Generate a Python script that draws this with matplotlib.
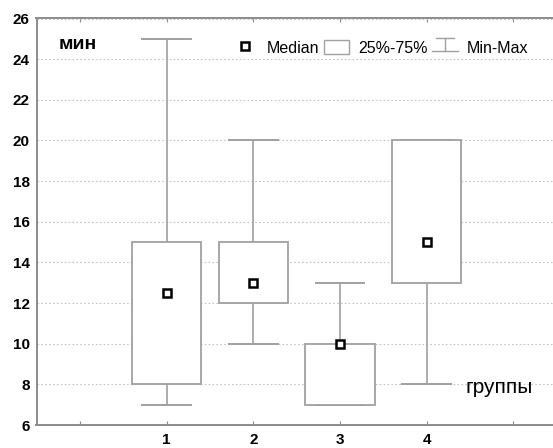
import matplotlib.pyplot as plt
from matplotlib.lines import Line2D
from matplotlib.patches import Rectangle
from matplotlib.legend_handler import HandlerBase

# ----------------------------
# Data
# ----------------------------
groups = [1, 2, 3, 4]
mins = [7, 10, 7, 8]
q1 = [8, 12, 7, 13]
medians = [12.5, 13, 10, 15]
q3 = [15, 15, 10, 20]
maxs = [25, 20, 13, 20]

yticks = [6, 8, 10, 12, 14, 16, 18, 20, 22, 24, 26]
xtick_pos = [0, 1, 2, 3, 4, 5]
xtick_labels = ["", "1", "2", "3", "4", ""]

LINE = "#a0a0a0"
BOX_W = 0.8
CAP_W = 0.56


class WhiskerHandler(HandlerBase):
    # legend symbol: short cap on top, stem, longer line at the bottom
    def create_artists(self, legend, orig_handle, xd, yd, w, h, fontsize, trans):
        cx = xd + w / 2
        top = yd + h * 1.0
        bot = yd
        arts = [
            Line2D([cx - w * 0.35, cx + w * 0.35], [top, top], color=LINE, lw=1.0),
            Line2D([cx, cx], [bot, top], color=LINE, lw=1.0),
            Line2D([xd, xd + w], [bot, bot], color=LINE, lw=1.0),
        ]
        for a in arts:
            a.set_transform(trans)
        return arts


plt.rcParams["font.family"] = ["Liberation Sans", "DejaVu Sans"]

fig = plt.figure(figsize=(5.53, 4.48), dpi=100)
ax = fig.add_axes([36.5 / 553, 23 / 448, 1 - 36.5 / 553 + 0.002, 406.5 / 448])

for g, lo, a, m, b, hi in zip(groups, mins, q1, medians, q3, maxs):
    # whiskers
    ax.plot([g, g], [lo, a], color=LINE, lw=1.2, zorder=2)
    ax.plot([g, g], [b, hi], color=LINE, lw=1.2, zorder=2)
    ax.plot([g - CAP_W / 2, g + CAP_W / 2], [lo, lo], color=LINE, lw=1.4, zorder=2)
    ax.plot([g - CAP_W / 2, g + CAP_W / 2], [hi, hi], color=LINE, lw=1.4, zorder=2)
    # box
    ax.add_patch(Rectangle((g - BOX_W / 2, a), BOX_W, b - a,
                           facecolor="white", edgecolor=LINE, lw=1.3, zorder=3))
    # median
    ax.plot(g, m, marker="s", ms=5.5, mfc="white", mec="black", mew=1.8, zorder=4)

ax.set_xlim(-0.5, 5.47)
ax.set_ylim(6, 26)
ax.set_yticks(yticks)
ax.set_xticks(xtick_pos)
ax.set_xticklabels(xtick_labels)
ax.grid(axis="y", color="#c4c4c4", ls=(0, (1.5, 2)), lw=0.8)
ax.set_axisbelow(True)

for s in ["left", "bottom", "top"]:
    ax.spines[s].set_color("#8c8c8c")
    ax.spines[s].set_linewidth(1.4)
ax.spines["right"].set_visible(False)

ax.tick_params(axis="x", direction="in", length=3, color="#8c8c8c",
               top=True, labelsize=11, pad=6)
ax.tick_params(axis="y", direction="in", length=0, labelsize=11, pad=5)
for lab in ax.get_xticklabels() + ax.get_yticklabels():
    lab.set_fontweight("bold")

ax.text(-0.24, 24.7, "мин", fontsize=14, fontweight="bold", ha="left", va="center")
ax.text(4.45, 7.55, "группы", fontsize=15, ha="left", va="baseline")

handles = [
    Line2D([], [], ls="none", marker="s", ms=5.5, mfc="white", mec="black", mew=1.8),
    Rectangle((0, 0), 1, 1, facecolor="white", edgecolor=LINE, lw=1.0),
    Line2D([], []),
]
labels = ["Median", "25%-75%", "Min-Max"]
leg = ax.legend(handles, labels, loc="center left",
                bbox_to_anchor=(232 / 553, 1 - 48 / 448), bbox_transform=fig.transFigure,
                ncol=3, frameon=False, fontsize=11.5, handlelength=1.6, handleheight=0.9,
                handletextpad=0.55, columnspacing=0.3, borderpad=0, borderaxespad=0,
                handler_map={handles[2]: WhiskerHandler()})

fig.savefig("out.png", dpi=100)
